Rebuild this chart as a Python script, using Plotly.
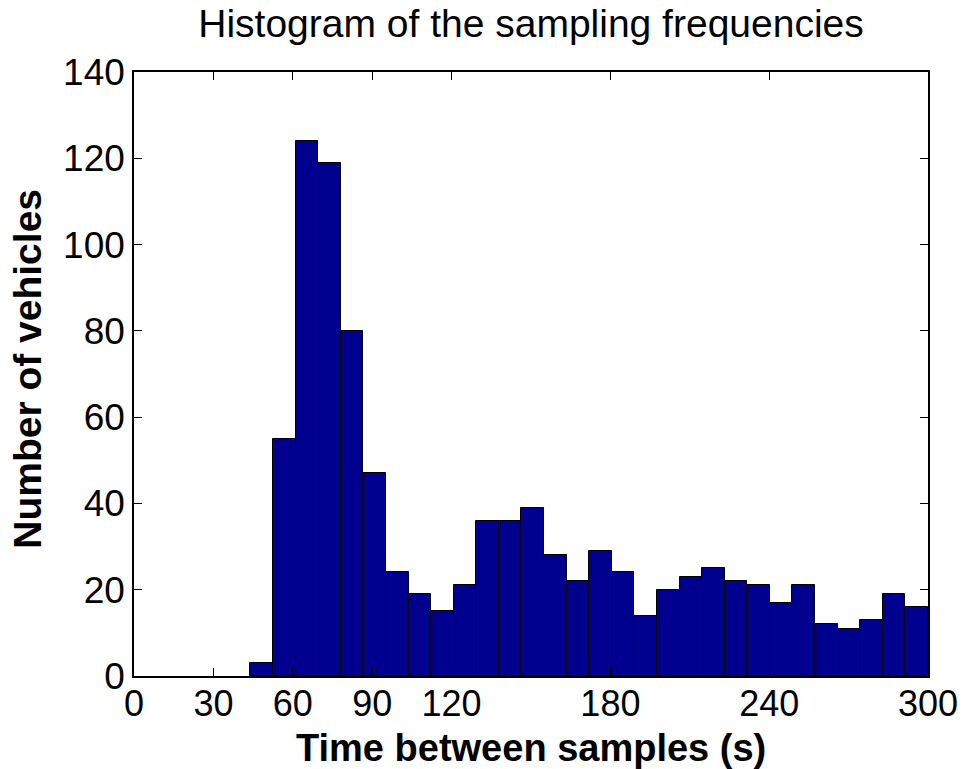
import plotly.graph_objects as go

# Histogram data
bin_start = 44.0
bin_width = 8.533
counts = [3, 55, 124, 119, 80, 47, 24, 19, 15, 21, 36, 36, 39, 28, 22,
          29, 24, 14, 20, 23, 25, 22, 21, 17, 21, 12, 11, 13, 19, 16]
x_ticks = [0, 30, 60, 90, 120, 180, 240, 300]
y_ticks = [0, 20, 40, 60, 80, 100, 120, 140]

centers = [bin_start + bin_width * (i + 0.5) for i in range(len(counts))]

FONT = "Liberation Sans, Arial, sans-serif"

fig = go.Figure(go.Bar(
    x=centers, y=counts, width=[bin_width] * len(counts),
    marker=dict(color="#00008f", line=dict(color="black", width=1)),
))

fig.update_layout(
    width=964, height=769,
    margin=dict(l=134, r=36, t=72, b=93, autoexpand=False),
    paper_bgcolor="white", plot_bgcolor="white",
    showlegend=False,
    bargap=0,
    title=dict(text="Histogram of the sampling frequencies",
               xref="paper", x=0.5, xanchor="center",
               yref="container", y=1 - 23 / 769, yanchor="middle",
               font=dict(family=FONT, size=39, color="black")),
    font=dict(family=FONT, color="black"),
    annotations=[
        dict(text="<b>Time between samples (s)</b>", xref="paper", yref="paper",
             x=0.5, y=-0.119, xanchor="center", yanchor="middle", showarrow=False,
             font=dict(family=FONT, size=38, color="black")),
        dict(text="<b>Number of vehicles</b>", xref="paper", yref="paper",
             x=-0.134, y=0.508, xanchor="center", yanchor="middle", showarrow=False,
             textangle=-90, font=dict(family=FONT, size=39, color="black")),
    ],
)

fig.update_xaxes(
    range=[0, 300], tickvals=x_ticks, ticktext=[str(v) for v in x_ticks],
    ticks="inside", ticklen=8, tickcolor="black", tickwidth=1,
    showline=True, linecolor="black", linewidth=1.5, mirror="ticks",
    showgrid=False, zeroline=False, automargin=False, ticklabelstandoff=-5,
    tickfont=dict(family=FONT, size=36, color="black"),
)
fig.update_yaxes(
    range=[0, 140], tickvals=y_ticks,
    ticks="inside", ticklen=8, tickcolor="black", tickwidth=1,
    showline=True, linecolor="black", linewidth=1.5, mirror="ticks",
    showgrid=False, zeroline=False, automargin=False,
    tickfont=dict(family=FONT, size=37, color="black"),
)

fig.write_html("out.html")
